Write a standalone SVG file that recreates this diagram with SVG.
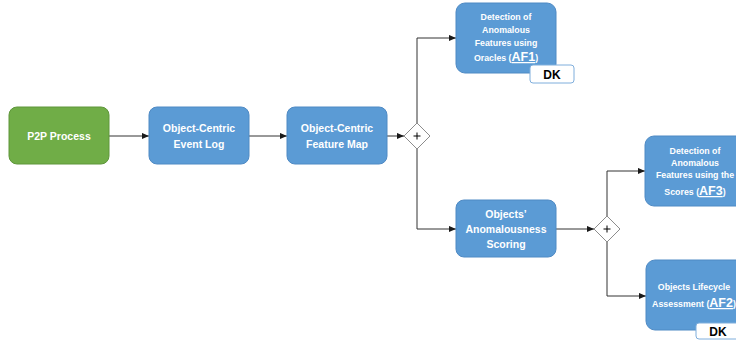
<svg xmlns="http://www.w3.org/2000/svg" width="736" height="341" viewBox="0 0 736 341">
<defs>
<marker id="arr" viewBox="0 0 8 8" refX="8" refY="4" markerWidth="7" markerHeight="7" markerUnits="userSpaceOnUse" orient="auto">
<path d="M0,0.5 L8,4 L0,7.5 Z" fill="#1a1a1a"/>
</marker>
<style>
.blue{fill:#5B9BD5;stroke:#4F8AC4;stroke-width:1}
.green{fill:#70AD47;stroke:#5E963A;stroke-width:1}
.dk{fill:#ffffff;stroke:#7FAEDC;stroke-width:1}
.gw{fill:#ffffff;stroke:#8c8c8c;stroke-width:1}
.t{font-family:"Liberation Sans",Arial,sans-serif;font-weight:bold;fill:#ffffff;text-anchor:middle}
.m{font-size:10.5px}
.s{font-size:8.8px}
.af{font-size:12.5px;text-decoration:underline}
.dkt{font-family:"Liberation Sans",Arial,sans-serif;font-weight:bold;font-size:12px;fill:#000000;text-anchor:middle}
.c{fill:none;stroke:#333333;stroke-width:1}
.plus{stroke:#000;stroke-width:1;fill:none}
</style>
</defs>
<g id="connectors">
<line class="c" x1="109" y1="136" x2="149" y2="136" marker-end="url(#arr)"/>
<line class="c" x1="249" y1="136" x2="287" y2="136" marker-end="url(#arr)"/>
<line class="c" x1="387" y1="136" x2="404" y2="136" marker-end="url(#arr)"/>
<polyline class="c" points="417,123 417,38 456,38" marker-end="url(#arr)"/>
<polyline class="c" points="417,149 417,229 456,229" marker-end="url(#arr)"/>
<line class="c" x1="556" y1="229" x2="594" y2="229" marker-end="url(#arr)"/>
<polyline class="c" points="607,216 607,171 645,171" marker-end="url(#arr)"/>
<polyline class="c" points="607,242 607,296 646,296" marker-end="url(#arr)"/>
</g>
<g id="p2p">
<rect class="green" x="9" y="107" width="100" height="57" rx="8"/>
<text class="t m" x="59" y="140">P2P Process</text>
</g>
<g id="eventlog">
<rect class="blue" x="149" y="107" width="100" height="57" rx="8"/>
<text class="t m" x="199" y="132">Object-Centric</text>
<text class="t m" x="199" y="148">Event Log</text>
</g>
<g id="featuremap">
<rect class="blue" x="287" y="107" width="100" height="57" rx="8"/>
<text class="t m" x="337" y="132">Object-Centric</text>
<text class="t m" x="337" y="148">Feature Map</text>
</g>
<g id="gateway1">
<polygon class="gw" points="417,123 430,136 417,149 404,136"/>
<path class="plus" d="M413.5,136 H420.5 M417,132.5 V139.5"/>
</g>
<g id="af1">
<rect class="blue" x="456" y="3" width="100" height="70" rx="9"/>
<text class="t s" x="506" y="20">Detection of</text>
<text class="t s" x="506" y="33">Anomalous</text>
<text class="t s" x="506" y="46">Features using</text>
<text class="t s" x="506" y="61">Oracles (<tspan class="af">AF1</tspan>)</text>
<rect class="dk" x="530" y="65" width="44" height="18" rx="3"/>
<text class="dkt" x="552" y="78.5">DK</text>
</g>
<g id="scoring">
<rect class="blue" x="456" y="200" width="100" height="57" rx="8"/>
<text class="t m" x="506" y="218">Objects’</text>
<text class="t m" x="506" y="233">Anomalousness</text>
<text class="t m" x="506" y="248">Scoring</text>
</g>
<g id="gateway2">
<polygon class="gw" points="607,216 620,229 607,242 594,229"/>
<path class="plus" d="M603.5,229 H610.5 M607,225.5 V232.5"/>
</g>
<g id="af3">
<rect class="blue" x="645" y="136" width="100" height="70" rx="9"/>
<text class="t s" x="695" y="154">Detection of</text>
<text class="t s" x="695" y="166">Anomalous</text>
<text class="t s" x="695" y="178">Features using the</text>
<text class="t s" x="695" y="195">Scores (<tspan class="af">AF3</tspan>)</text>
</g>
<g id="af2">
<rect class="blue" x="646" y="260" width="100" height="70" rx="9"/>
<text class="t s" x="694" y="290">Objects Lifecycle</text>
<text class="t s" x="694" y="307">Assessment (<tspan class="af">AF2</tspan>)</text>
<rect class="dk" x="696" y="323" width="46" height="16" rx="3"/>
<text class="dkt" x="718" y="335.5">DK</text>
</g>
</svg>
